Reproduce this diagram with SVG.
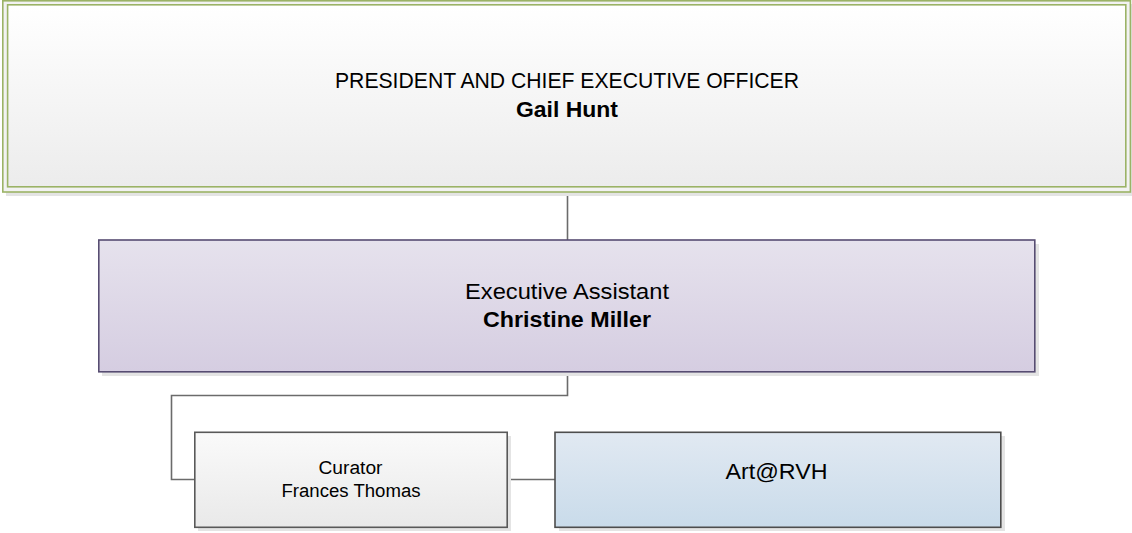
<svg xmlns="http://www.w3.org/2000/svg" width="1132" height="533" viewBox="0 0 1132 533">
<defs>
<linearGradient id="gTop" x1="0" y1="0" x2="0" y2="1"><stop offset="0" stop-color="#ffffff"/><stop offset="1" stop-color="#ececec"/></linearGradient>
<linearGradient id="gExec" x1="0" y1="0" x2="0" y2="1"><stop offset="0" stop-color="#e6e2ed"/><stop offset="1" stop-color="#d5cde1"/></linearGradient>
<linearGradient id="gCur" x1="0" y1="0" x2="0" y2="1"><stop offset="0" stop-color="#fafafa"/><stop offset="1" stop-color="#e9e9e9"/></linearGradient>
<linearGradient id="gArt" x1="0" y1="0" x2="0" y2="1"><stop offset="0" stop-color="#e1e9f2"/><stop offset="1" stop-color="#c9dbea"/></linearGradient>
</defs>
<style>
text{font-family:"Liberation Sans",Arial,sans-serif;fill:#000;text-anchor:middle}
.b{font-weight:bold}
.shadow{fill:#e4e4e4}
.conn{fill:none;stroke:#6b6b6b;stroke-width:1.6}
</style>
<rect width="1132" height="533" fill="#ffffff"/>
<g id="connectors">
<path class="conn" d="M567.5 192 V240"/>
<path class="conn" d="M567.5 372 V395.5 H171.5 V479.5 H195"/>
<path class="conn" d="M507 479.5 H555"/>
</g>
<g id="ceo">
<rect class="shadow" x="6" y="4" width="1126" height="192"/>
<rect x="2.8" y="0.8" width="1127.6" height="191.2" fill="#f2f2f2" stroke="#9bb366" stroke-width="1.6"/>
<rect x="7.6" y="4.8" width="1118.2" height="182" fill="url(#gTop)" stroke="#9bb366" stroke-width="1.6"/>
<text x="567" y="88" font-size="22" textLength="464" lengthAdjust="spacingAndGlyphs">PRESIDENT AND CHIEF EXECUTIVE OFFICER</text>
<text class="b" x="567" y="117" font-size="22" textLength="102" lengthAdjust="spacingAndGlyphs">Gail Hunt</text>
</g>
<g id="assistant">
<rect class="shadow" x="102" y="244" width="937" height="132"/>
<rect x="98.8" y="240" width="936" height="131.8" fill="url(#gExec)" stroke="#574d72" stroke-width="1.6"/>
<text x="567" y="299" font-size="22" textLength="204" lengthAdjust="spacingAndGlyphs">Executive Assistant</text>
<text class="b" x="567" y="327" font-size="22" textLength="168" lengthAdjust="spacingAndGlyphs">Christine Miller</text>
</g>
<g id="curator">
<rect class="shadow" x="198" y="436" width="313" height="95"/>
<rect x="194.8" y="432.3" width="312.4" height="95" fill="url(#gCur)" stroke="#595959" stroke-width="1.6"/>
<text x="350.5" y="474" font-size="18" textLength="64" lengthAdjust="spacingAndGlyphs">Curator</text>
<text x="351" y="497" font-size="18" textLength="139" lengthAdjust="spacingAndGlyphs">Frances Thomas</text>
</g>
<g id="art">
<rect class="shadow" x="559" y="436" width="446" height="95"/>
<rect x="555" y="432.3" width="445.8" height="95" fill="url(#gArt)" stroke="#4d4d4d" stroke-width="1.6"/>
<text x="776.5" y="479" font-size="22" textLength="102" lengthAdjust="spacingAndGlyphs">Art@RVH</text>
</g>
</svg>
